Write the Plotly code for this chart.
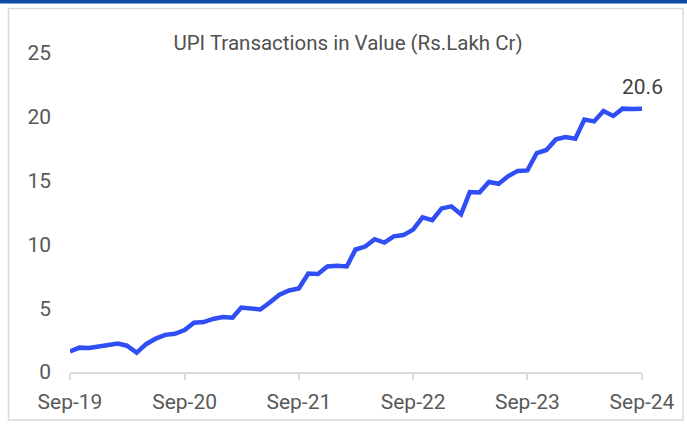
import plotly.graph_objects as go
import pandas as pd

title_text = "UPI Transactions in Value (Rs.Lakh Cr)"
months = pd.date_range("2019-09-01", "2024-09-01", freq="MS").strftime("%Y-%m-%d").tolist()
upi_value = [
    1.61, 1.91, 1.89, 2.02, 2.16, 2.23, 2.06, 1.51, 2.18, 2.62, 2.91, 2.99,
    3.29, 3.86, 3.91, 4.16, 4.31, 4.25, 5.05, 4.94, 4.90, 5.47, 6.06, 6.39,
    6.54, 7.71, 7.68, 8.27, 8.32, 8.27, 9.60, 9.83, 10.41, 10.14, 10.63, 10.73,
    11.16, 12.12, 11.90, 12.82, 12.98, 12.36, 14.10, 14.07, 14.89, 14.75, 15.34, 15.76,
    15.80, 17.16, 17.40, 18.23, 18.41, 18.28, 19.78, 19.64, 20.45, 20.07, 20.64, 20.61,
    20.64,
]
last_label = "20.6"

W, H = 687, 430
L, R, T, B = 70, 45, 53, 58
pw, ph = W - L - R, H - T - B

def px_to_paper_x(px):
    return (px - L) / pw

def px_to_paper_y(py):
    return (H - B - py) / ph

fig = go.Figure()
fig.add_trace(go.Scatter(
    x=months, y=upi_value, mode="lines",
    line=dict(color="#2F4EF6", width=4.5),
    hoverinfo="skip", showlegend=False,
))

fig.add_annotation(
    x=months[-1], y=upi_value[-1], text=last_label, showarrow=False,
    yshift=22, font=dict(family="Roboto", size=21, color="#404040"),
)

fig.add_shape(type="rect", xref="paper", yref="paper",
              x0=px_to_paper_x(8.5), x1=px_to_paper_x(683), y0=px_to_paper_y(420), y1=px_to_paper_y(8.5),
              line=dict(color="#D9D9D9", width=1.5), fillcolor="rgba(0,0,0,0)", layer="below")
fig.add_shape(type="rect", xref="paper", yref="paper",
              x0=px_to_paper_x(0), x1=px_to_paper_x(W), y0=px_to_paper_y(3.5), y1=px_to_paper_y(0),
              line=dict(width=0), fillcolor="#0B4AA5", layer="below")

fig.update_layout(
    width=W, height=H,
    margin=dict(l=L, r=R, t=T, b=B),
    paper_bgcolor="white", plot_bgcolor="white",
    font=dict(family="Roboto", size=21, color="#595959"),
    title=dict(text=title_text, x=px_to_paper_x(348), xref="paper", xanchor="center",
               y=1 - 43 / H, yanchor="middle",
               font=dict(family="Roboto", size=20.5, color="#505050")),
    xaxis=dict(
        type="date", range=[months[0], months[-1]],
        tickvals=months[::12], tickformat="%b-%y",
        showgrid=False, zeroline=False,
        showline=True, linecolor="#D9D9D9", linewidth=1.5,
        ticks="outside", ticklen=6, tickcolor="#D9D9D9", tickwidth=1.5,
        ticklabelstandoff=4,
    ),
    yaxis=dict(
        range=[0, 25], tickvals=[0, 5, 10, 15, 20, 25],
        showgrid=False, zeroline=False, showline=False,
        ticklabelstandoff=18,
    ),
)

fig.write_html("out.html", config={"displayModeBar": False},
               post_script="document.body.style.margin='0';document.body.style.overflow='hidden';")
